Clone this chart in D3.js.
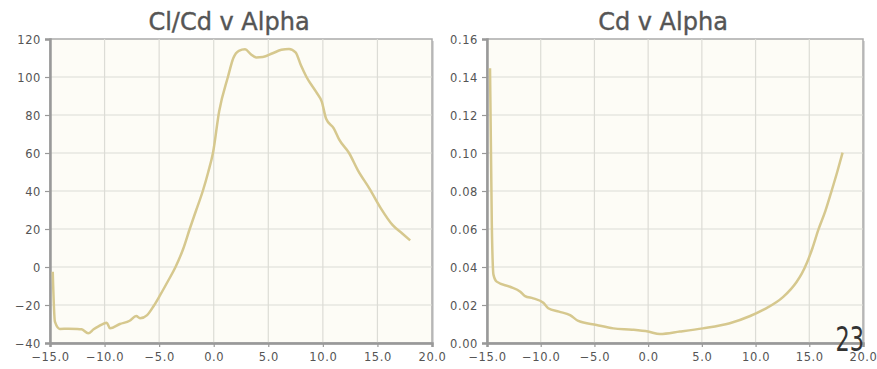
<!DOCTYPE html>
<html>
<head>
<meta charset="utf-8">
<script src="https://cdn.jsdelivr.net/npm/d3@7"></script>
<style>
  body { margin: 0; background: #fff; }
  svg { display: block; }
</style>
</head>
<body>
<svg id="chart" width="877" height="369"></svg>
<script>
// Cl/Cd v Alpha
const clcdAlpha = [-14.75, -14.55, -14.1, -13.3, -12.5, -12.1, -11.5, -11.0, -10.6, -9.8, -9.5, -8.6, -7.7, -7.1, -6.75, -6.1, -5.5, -4.9, -4.2, -3.5, -2.8, -2.2, -1.6, -1.0, -0.5, -0.07, 0.5, 1.3, 1.8, 2.3, 2.87, 3.4, 3.9, 4.5, 5.4, 6.2, 6.9, 7.5, 8.0, 8.5, 9.4, 9.9, 10.3, 11.0, 11.5, 12.4, 13.2, 14.3, 15.3, 16.4, 17.3, 18.0];
const clcdValues = [-2.5, -28.8, -32.6, -32.5, -32.6, -32.8, -34.9, -32.8, -31.4, -29.3, -32.3, -30, -28.3, -25.8, -27, -25.3, -20.5, -14.7, -7.5, 0, 9.5, 20, 30, 40, 50, 60, 82, 100, 110, 113.8, 114.6, 112, 110.3, 110.5, 112.5, 114.3, 114.8, 113, 106, 100, 92, 87, 78, 73, 67, 60, 51, 41, 31, 22, 17.5, 14];

// Cd v Alpha
const cdAlpha = [-14.72, -14.55, -14.4, -14.1, -12.86, -11.9, -11.46, -10.7, -9.76, -9.3, -8.3, -7.27, -6.5, -4.8, -3.24, -1.5, 0.0, 1.1, 2.96, 5.1, 7.6, 9.5, 10.7, 12.6, 13.8, 14.3, 14.8, 15.3, 15.84, 16.5, 17.1, 17.6, 18.1];
const cdValues = [0.1446, 0.062, 0.036, 0.0323, 0.0296, 0.027, 0.0247, 0.0235, 0.0212, 0.0183, 0.0165, 0.0147, 0.0116, 0.0095, 0.0077, 0.007, 0.006, 0.0047, 0.006, 0.0077, 0.0104, 0.0142, 0.0174, 0.0244, 0.032, 0.0365, 0.0425, 0.050, 0.0595, 0.0695, 0.0805, 0.090, 0.1002];

const xTicks = [-15, -10, -5, 0, 5, 10, 15, 20];
const clcdTicks = [-40, -20, 0, 20, 40, 60, 80, 100, 120];
const cdTicks = [0, 0.02, 0.04, 0.06, 0.08, 0.10, 0.12, 0.14, 0.16];

const svg = d3.select('#chart');
const lineColor = '#d6c88e';

function drawPanel(cfg) {
  const g = svg.append('g');
  const x = d3.scaleLinear().domain([-15, 20]).range([cfg.left, cfg.right]);
  const y = d3.scaleLinear().domain(cfg.yDomain).range([343, 39]);

  // shadow + plot background
  g.append('rect')
    .attr('x', cfg.left + 2).attr('y', 39 + 2)
    .attr('width', cfg.right - cfg.left).attr('height', 304)
    .attr('fill', '#d8d8d8');
  g.append('rect')
    .attr('x', cfg.left).attr('y', 39)
    .attr('width', cfg.right - cfg.left).attr('height', 304)
    .attr('fill', '#fdfcf6')
    .attr('stroke', '#aaa').attr('stroke-width', 1.5);

  // grid
  g.selectAll('.vgrid').data(xTicks.slice(1, -1)).join('line')
    .attr('class', 'vgrid')
    .attr('x1', d => x(d)).attr('x2', d => x(d))
    .attr('y1', 39).attr('y2', 343)
    .attr('stroke', '#dcdcd6').attr('stroke-width', 1.2);
  g.selectAll('.hgrid').data(cfg.yTicks.slice(1, -1)).join('line')
    .attr('class', 'hgrid')
    .attr('x1', cfg.left).attr('x2', cfg.right)
    .attr('y1', d => y(d)).attr('y2', d => y(d))
    .attr('stroke', '#dcdcd6').attr('stroke-width', 1.2);

  // axes
  const xAxis = g.append('g')
    .attr('transform', 'translate(0,343)')
    .call(d3.axisBottom(x).tickValues(xTicks).tickFormat(d3.format('.1f')).tickSize(4).tickPadding(6));
  const yAxis = g.append('g')
    .attr('transform', `translate(${cfg.left},0)`)
    .call(d3.axisLeft(y).tickValues(cfg.yTicks).tickFormat(cfg.fmt).tickSize(5).tickPadding(4));
  [xAxis, yAxis].forEach(a => {
    a.select('.domain').attr('stroke', '#999').attr('stroke-width', 2.5);
    a.selectAll('.tick line').attr('stroke', '#999').attr('stroke-width', 1.2);
    a.selectAll('text')
      .attr('fill', '#555')
      .attr('font-family', 'DejaVu Sans, Verdana, sans-serif')
      .attr('font-size', 11.5)
      .attr('letter-spacing', 0.6);
  });
  yAxis.selectAll('text').attr('dy', '0.35em');

  // line
  const line = d3.line()
    .curve(d3.curveMonotoneX)
    .x(d => x(d[0]))
    .y(d => y(d[1]));
  g.append('path')
    .datum(d3.zip(cfg.alpha, cfg.values))
    .attr('d', line)
    .attr('fill', 'none')
    .attr('stroke', lineColor)
    .attr('stroke-width', 2.5)
    .attr('stroke-linejoin', 'round');

  // title
  g.append('text')
    .attr('x', (cfg.left + cfg.right) / 2 - 12)
    .attr('y', 30)
    .attr('text-anchor', 'middle')
    .attr('font-family', 'DejaVu Sans, Verdana, sans-serif')
    .attr('font-size', 24)
    .attr('fill', '#555')
    .attr('stroke', '#555').attr('stroke-width', 0.4)
    .text(cfg.title);
}

drawPanel({ title: 'Cl/Cd v Alpha', left: 50, right: 432, yDomain: [-40, 120], yTicks: clcdTicks, fmt: d3.format('d'), alpha: clcdAlpha, values: clcdValues });
drawPanel({ title: 'Cd v Alpha', left: 487, right: 863, yDomain: [0, 0.16], yTicks: cdTicks, fmt: d3.format('.2f'), alpha: cdAlpha, values: cdValues });

// slide number (condensed)
svg.append('text')
  .attr('transform', 'translate(864,351) scale(0.68,1)')
  .attr('text-anchor', 'end')
  .attr('font-family', 'DejaVu Sans, sans-serif')
  .attr('font-size', 33)
  .attr('fill', '#333')
  .text('23');
</script>
</body>
</html>
